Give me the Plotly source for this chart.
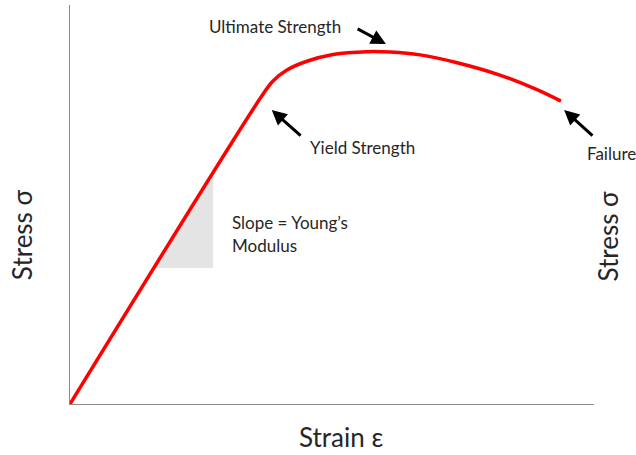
import plotly.graph_objects as go

# Curve data (arbitrary units: strain 0-100, stress 0-100)
strain = [0, 36.5, 38.7, 41.4, 45.2, 50.2, 56.7, 61.1, 66.8, 73.7, 81.9, 88.9, 93.7]
stress = [0, 77.0, 80.9, 83.7, 85.9, 87.6, 88.3, 88.2, 87.5, 85.6, 82.5, 78.9, 75.9]

# Slope triangle
tri_x = [16.2, 27.3, 27.3, 16.2]
tri_y = [34.1, 34.1, 57.0, 34.1]

# Labels
x_title = "Strain ε"
y_title = "Stress σ"

FONT = "Lato"
TXT = "#262626"

fig = go.Figure()
fig.add_trace(go.Scatter(x=tri_x, y=tri_y, fill="toself", fillcolor="#e4e4e4",
                         line=dict(width=0), mode="lines", hoverinfo="skip"))
fig.add_trace(go.Scatter(x=strain, y=stress, mode="lines",
                         line=dict(color="#ff0000", width=3.5, shape="spline", smoothing=1.0),
                         hoverinfo="skip"))

anns = []
def txt(x, y, s, size=17):
    anns.append(dict(x=x, y=y, xref="x", yref="y", text=s, showarrow=False,
                     xanchor="left", yanchor="middle",
                     font=dict(family=FONT, size=size, color=TXT)))

txt(26.1, 94.5, "Ultimate Strength")
txt(45.4, 64.4, "Yield Strength")
txt(98.3, 62.9, "Failure")
txt(30.5, 45.6, "Slope = Young’s")
txt(30.5, 39.8, "Modulus")

# arrows (tail -> head)
arrows = [((54.6, 94.2), (60.3, 90.2)),
          ((44.3, 66.9), (38.5, 73.7)),
          ((100.0, 66.9), (94.3, 73.7))]
for (tx, ty), (hx, hy) in arrows:
    anns.append(dict(x=hx, y=hy, ax=tx, ay=ty, xref="x", yref="y", axref="x", ayref="y",
                     text="", showarrow=True, arrowhead=2, arrowsize=1.0,
                     arrowwidth=3, arrowcolor="#000000"))

# axis titles
anns.append(dict(x=0.517, y=-0.083, xref="paper", yref="paper", text=x_title,
                 showarrow=False, xanchor="center", yanchor="middle",
                 font=dict(family=FONT, size=26, color=TXT)))
anns.append(dict(x=-0.091, y=0.424, xref="paper", yref="paper", text=y_title,
                 showarrow=False, xanchor="center", yanchor="middle", textangle=-90,
                 font=dict(family=FONT, size=26, color=TXT)))
anns.append(dict(x=1.027, y=0.42, xref="paper", yref="paper", text=y_title,
                 showarrow=False, xanchor="center", yanchor="middle", textangle=-90,
                 font=dict(family=FONT, size=26, color=TXT)))

fig.update_layout(
    width=636, height=455,
    margin=dict(l=70, r=42, t=5, b=51),
    paper_bgcolor="white", plot_bgcolor="white",
    showlegend=False,
    annotations=anns,
    xaxis=dict(range=[0, 100], showgrid=False, zeroline=False, showticklabels=False,
               ticks="", showline=True, linecolor="#8c8c8c", linewidth=1.2),
    yaxis=dict(range=[0, 100], showgrid=False, zeroline=False, showticklabels=False,
               ticks="", showline=True, linecolor="#8c8c8c", linewidth=1.2),
)
fig.write_html("out.html", config={"displayModeBar": False},
               post_script="document.body.style.margin='0';document.body.style.overflow='hidden';")
